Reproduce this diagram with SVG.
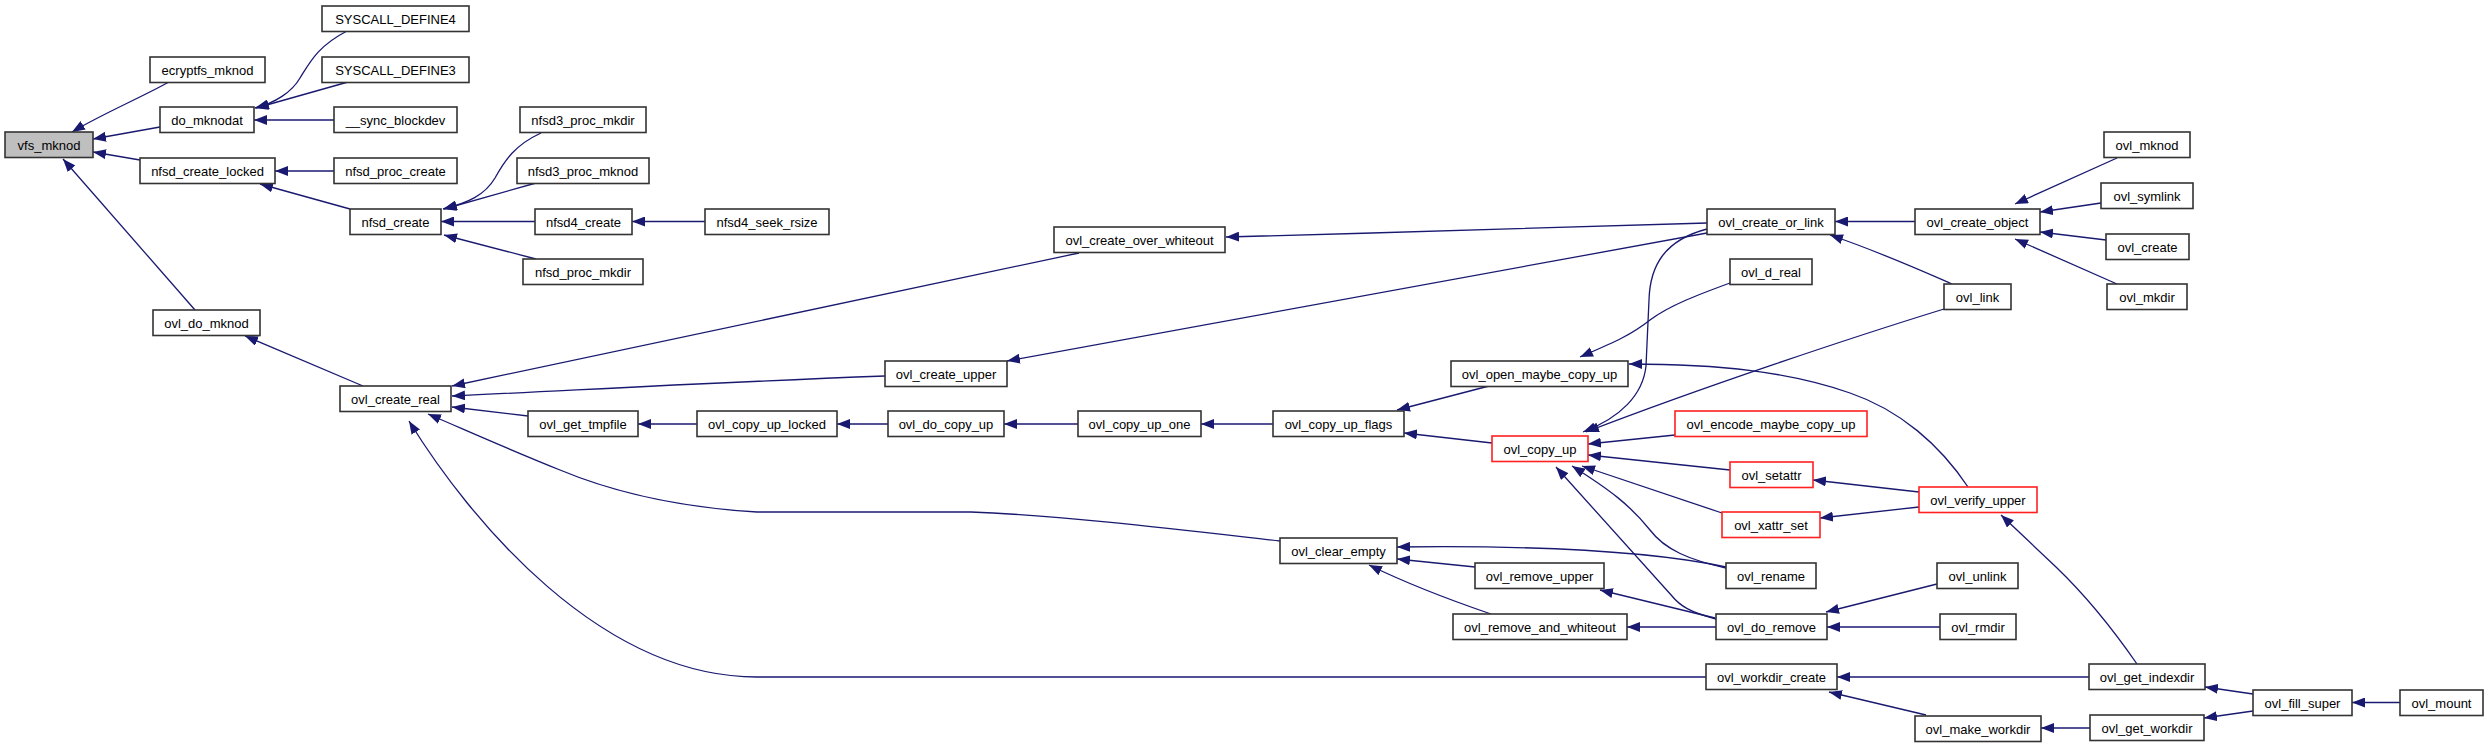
<svg xmlns="http://www.w3.org/2000/svg" width="2488" height="747" viewBox="0 0 2488 747">
<style>
.n rect{fill:#ffffff;stroke:#333333;stroke-width:1.6}
.n.root rect{fill:#bfbfbf}
.n.trunc rect{stroke:#ff2020}
.n text{font-family:"Liberation Sans",Arial,Helvetica,sans-serif;font-size:13px;fill:#000000;text-anchor:middle}
#edges path{fill:none;stroke:#191970;stroke-width:1.3;marker-end:url(#ah)}
</style>
<defs>
<marker id="ah" markerUnits="userSpaceOnUse" markerWidth="13" markerHeight="10" viewBox="0 0 13 10" refX="13" refY="5" orient="auto">
<path d="M0,0 L13,5 L0,10 z" fill="#191970" stroke="none"/>
</marker>
</defs>
<rect x="0" y="0" width="2488" height="747" fill="#ffffff"/>
<g id="edges">
<path d="M169,82 C140,98 100,115 72,132"/>
<path d="M160,127 L93,139"/>
<path d="M140,160 L93,152"/>
<path d="M195,310 L63,159"/>
<path d="M347,31 C318,46 310,62 300,78 C292,92 275,103 255,108"/>
<path d="M348,82 L256,108"/>
<path d="M334,120 L254,120"/>
<path d="M334,171 L275,171"/>
<path d="M350,209 L260,184"/>
<path d="M541,133 C515,145 505,160 495,178 C485,195 468,203 443,209"/>
<path d="M536,183 L444,209"/>
<path d="M535,221.5 L441,221.5"/>
<path d="M536,259 L444,235"/>
<path d="M705,221.5 L632,221.5"/>
<path d="M363,386 L245,336"/>
<path d="M1079,253 L452,386"/>
<path d="M885,376 C700,383 600,389 452,396"/>
<path d="M528,416 L452,407"/>
<path d="M1280,541 C1200,532 1060,515 971,512 L757,512 C690,508 620,495 560,470 C510,450 470,432 428,414"/>
<path d="M1706,677 L757,677 C600,677 470,520 409,421"/>
<path d="M697,424 L638,424"/>
<path d="M888,424 L837,424"/>
<path d="M1078,424 L1004,424"/>
<path d="M1273,424 L1201,424"/>
<path d="M1707,223 C1500,229 1383,233 1226,237"/>
<path d="M1707,233 L1007,361"/>
<path d="M1915,221.5 L1835,221.5"/>
<path d="M1952,284 C1920,270 1880,252 1830,235"/>
<path d="M1707,229 C1665,240 1650,265 1649,300 L1646,366 C1643,395 1620,418 1583,432"/>
<path d="M1944,309 C1850,338 1700,388 1586,432"/>
<path d="M1968,487 C1940,445 1900,410 1850,393 C1790,372 1720,364 1629,364"/>
<path d="M1730,283 C1700,294 1670,305 1650,320 C1630,336 1610,344 1580,357"/>
<path d="M1489,386 L1397,410"/>
<path d="M1492,443 L1404,433"/>
<path d="M1675,435 L1588,444"/>
<path d="M1730,470 L1588,455"/>
<path d="M1722,513 L1582,466"/>
<path d="M1726,568 C1690,560 1665,550 1650,530 C1630,505 1610,490 1572,466"/>
<path d="M1716,619 C1690,612 1680,606 1672,596 L1556,467"/>
<path d="M1726,567 C1660,553 1560,545 1397,547"/>
<path d="M1475,567 L1397,559"/>
<path d="M1491,614 C1450,600 1410,585 1369,565"/>
<path d="M1715,618 L1600,590"/>
<path d="M1716,627 L1627,627"/>
<path d="M1937,584 L1826,612"/>
<path d="M1940,627 L1827,627"/>
<path d="M1919,492 L1813,480"/>
<path d="M1919,507 L1820,518"/>
<path d="M2137,664 C2110,625 2080,590 2056,567 C2035,547 2020,533 2001,515"/>
<path d="M2089,677 L1837,677"/>
<path d="M1926,715 L1829,692"/>
<path d="M2090,728 L2041,728"/>
<path d="M2253,694 L2205,687"/>
<path d="M2253,711 L2204,718"/>
<path d="M2400,702.5 L2352,702.5"/>
<path d="M2117,158 L2015,204"/>
<path d="M2101,203 L2040,212"/>
<path d="M2106,240 L2040,232"/>
<path d="M2117,284 L2015,239"/>
</g>
<g id="vfs_mknod" class="n root"><rect x="5" y="132" width="88" height="25.5"/><text x="49" y="149.5">vfs_mknod</text></g>
<g id="ecryptfs_mknod" class="n"><rect x="150" y="57" width="115" height="25.5"/><text x="207.5" y="74.5">ecryptfs_mknod</text></g>
<g id="do_mknodat" class="n"><rect x="160" y="107" width="94" height="25.5"/><text x="207" y="124.5">do_mknodat</text></g>
<g id="SYSCALL_DEFINE4" class="n"><rect x="322" y="6" width="147" height="25.5"/><text x="395.5" y="23.5">SYSCALL_DEFINE4</text></g>
<g id="SYSCALL_DEFINE3" class="n"><rect x="322" y="57" width="147" height="25.5"/><text x="395.5" y="74.5">SYSCALL_DEFINE3</text></g>
<g id="__sync_blockdev" class="n"><rect x="334" y="107" width="123" height="25.5"/><text x="395.5" y="124.5">__sync_blockdev</text></g>
<g id="nfsd_create_locked" class="n"><rect x="140" y="158" width="135" height="25.5"/><text x="207.5" y="175.5">nfsd_create_locked</text></g>
<g id="nfsd_proc_create" class="n"><rect x="334" y="158" width="123" height="25.5"/><text x="395.5" y="175.5">nfsd_proc_create</text></g>
<g id="nfsd_create" class="n"><rect x="350" y="209" width="91" height="25.5"/><text x="395.5" y="226.5">nfsd_create</text></g>
<g id="nfsd3_proc_mkdir" class="n"><rect x="520" y="107" width="126" height="25.5"/><text x="583" y="124.5">nfsd3_proc_mkdir</text></g>
<g id="nfsd3_proc_mknod" class="n"><rect x="517" y="158" width="132" height="25.5"/><text x="583" y="175.5">nfsd3_proc_mknod</text></g>
<g id="nfsd4_create" class="n"><rect x="535" y="209" width="97" height="25.5"/><text x="583.5" y="226.5">nfsd4_create</text></g>
<g id="nfsd4_seek_rsize" class="n"><rect x="705" y="209" width="124" height="25.5"/><text x="767" y="226.5">nfsd4_seek_rsize</text></g>
<g id="nfsd_proc_mkdir" class="n"><rect x="523" y="259" width="120" height="25.5"/><text x="583" y="276.5">nfsd_proc_mkdir</text></g>
<g id="ovl_do_mknod" class="n"><rect x="153" y="310" width="107" height="25.5"/><text x="206.5" y="327.5">ovl_do_mknod</text></g>
<g id="ovl_create_real" class="n"><rect x="340" y="386" width="111" height="25.5"/><text x="395.5" y="403.5">ovl_create_real</text></g>
<g id="ovl_get_tmpfile" class="n"><rect x="528" y="411" width="110" height="25.5"/><text x="583" y="428.5">ovl_get_tmpfile</text></g>
<g id="ovl_copy_up_locked" class="n"><rect x="697" y="411" width="140" height="25.5"/><text x="767" y="428.5">ovl_copy_up_locked</text></g>
<g id="ovl_create_over_whiteout" class="n"><rect x="1054" y="227" width="171" height="25.5"/><text x="1139.5" y="244.5">ovl_create_over_whiteout</text></g>
<g id="ovl_create_upper" class="n"><rect x="885" y="361" width="122" height="25.5"/><text x="946" y="378.5">ovl_create_upper</text></g>
<g id="ovl_do_copy_up" class="n"><rect x="888" y="411" width="116" height="25.5"/><text x="946" y="428.5">ovl_do_copy_up</text></g>
<g id="ovl_copy_up_one" class="n"><rect x="1078" y="411" width="123" height="25.5"/><text x="1139.5" y="428.5">ovl_copy_up_one</text></g>
<g id="ovl_copy_up_flags" class="n"><rect x="1273" y="411" width="131" height="25.5"/><text x="1338.5" y="428.5">ovl_copy_up_flags</text></g>
<g id="ovl_clear_empty" class="n"><rect x="1280" y="538" width="117" height="25.5"/><text x="1338.5" y="555.5">ovl_clear_empty</text></g>
<g id="ovl_open_maybe_copy_up" class="n"><rect x="1451" y="361" width="177" height="25.5"/><text x="1539.5" y="378.5">ovl_open_maybe_copy_up</text></g>
<g id="ovl_copy_up" class="n trunc"><rect x="1492" y="436" width="96" height="25.5"/><text x="1540" y="453.5">ovl_copy_up</text></g>
<g id="ovl_remove_upper" class="n"><rect x="1475" y="563" width="129" height="25.5"/><text x="1539.5" y="580.5">ovl_remove_upper</text></g>
<g id="ovl_remove_and_whiteout" class="n"><rect x="1453" y="614" width="174" height="25.5"/><text x="1540" y="631.5">ovl_remove_and_whiteout</text></g>
<g id="ovl_create_or_link" class="n"><rect x="1707" y="209" width="128" height="25.5"/><text x="1771" y="226.5">ovl_create_or_link</text></g>
<g id="ovl_d_real" class="n"><rect x="1730" y="259" width="82" height="25.5"/><text x="1771" y="276.5">ovl_d_real</text></g>
<g id="ovl_encode_maybe_copy_up" class="n trunc"><rect x="1675" y="411" width="192" height="25.5"/><text x="1771" y="428.5">ovl_encode_maybe_copy_up</text></g>
<g id="ovl_setattr" class="n trunc"><rect x="1730" y="462" width="83" height="25.5"/><text x="1771.5" y="479.5">ovl_setattr</text></g>
<g id="ovl_xattr_set" class="n trunc"><rect x="1722" y="512" width="98" height="25.5"/><text x="1771" y="529.5">ovl_xattr_set</text></g>
<g id="ovl_rename" class="n"><rect x="1726" y="563" width="90" height="25.5"/><text x="1771" y="580.5">ovl_rename</text></g>
<g id="ovl_do_remove" class="n"><rect x="1716" y="614" width="111" height="25.5"/><text x="1771.5" y="631.5">ovl_do_remove</text></g>
<g id="ovl_workdir_create" class="n"><rect x="1706" y="664" width="131" height="25.5"/><text x="1771.5" y="681.5">ovl_workdir_create</text></g>
<g id="ovl_create_object" class="n"><rect x="1915" y="209" width="125" height="25.5"/><text x="1977.5" y="226.5">ovl_create_object</text></g>
<g id="ovl_link" class="n"><rect x="1944" y="284" width="67" height="25.5"/><text x="1977.5" y="301.5">ovl_link</text></g>
<g id="ovl_verify_upper" class="n trunc"><rect x="1919" y="487" width="118" height="25.5"/><text x="1978" y="504.5">ovl_verify_upper</text></g>
<g id="ovl_unlink" class="n"><rect x="1937" y="563" width="81" height="25.5"/><text x="1977.5" y="580.5">ovl_unlink</text></g>
<g id="ovl_rmdir" class="n"><rect x="1940" y="614" width="76" height="25.5"/><text x="1978" y="631.5">ovl_rmdir</text></g>
<g id="ovl_make_workdir" class="n"><rect x="1915" y="716" width="126" height="25.5"/><text x="1978" y="733.5">ovl_make_workdir</text></g>
<g id="ovl_mknod" class="n"><rect x="2104" y="132" width="86" height="25.5"/><text x="2147" y="149.5">ovl_mknod</text></g>
<g id="ovl_symlink" class="n"><rect x="2101" y="183" width="92" height="25.5"/><text x="2147" y="200.5">ovl_symlink</text></g>
<g id="ovl_create" class="n"><rect x="2106" y="234" width="83" height="25.5"/><text x="2147.5" y="251.5">ovl_create</text></g>
<g id="ovl_mkdir" class="n"><rect x="2107" y="284" width="80" height="25.5"/><text x="2147" y="301.5">ovl_mkdir</text></g>
<g id="ovl_get_indexdir" class="n"><rect x="2089" y="664" width="116" height="25.5"/><text x="2147" y="681.5">ovl_get_indexdir</text></g>
<g id="ovl_get_workdir" class="n"><rect x="2090" y="715" width="114" height="25.5"/><text x="2147" y="732.5">ovl_get_workdir</text></g>
<g id="ovl_fill_super" class="n"><rect x="2253" y="690" width="99" height="25.5"/><text x="2302.5" y="707.5">ovl_fill_super</text></g>
<g id="ovl_mount" class="n"><rect x="2400" y="690" width="83" height="25.5"/><text x="2441.5" y="707.5">ovl_mount</text></g>
</svg>
